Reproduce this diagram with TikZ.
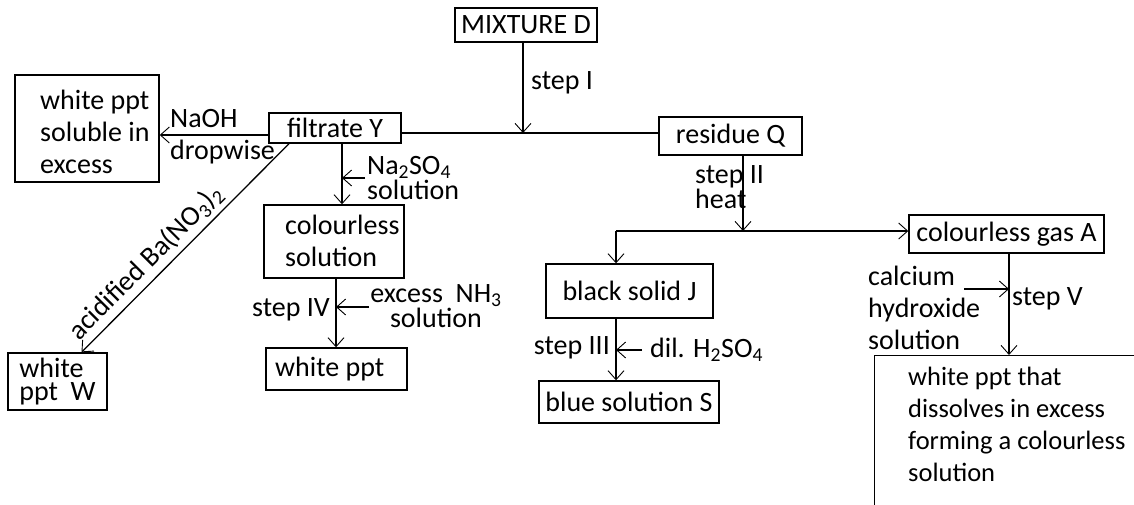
\documentclass[tikz,border=0pt]{standalone}
\usepackage{fontspec}
\setmainfont{Carlito}
\usetikzlibrary{arrows.meta}
\begin{document}
\begin{tikzpicture}[x=1pt,y=-1pt, font=\fontsize{28}{32}\selectfont,
  box/.style={draw, line width=1.4pt, inner sep=0pt, align=left},
  lab/.style={inner sep=0pt, anchor=west, align=left},
  con/.style={line width=1.3pt},
  arr/.style={con, -{Straight Barb[length=9pt,width=16pt,line width=0.9pt]}}]
\useasboundingbox (0,0) rectangle (1134,504);
\clip (0,0) rectangle (1134,504);
% boxes
\node[box, minimum width=142pt, minimum height=34pt] (mix) at (526,25) {MIXTURE D};
\node[box, minimum width=143pt, minimum height=38pt] (resQ) at (730.5,136) {residue Q};
\node[box, minimum width=132pt, minimum height=30pt] (filY) at (335,128) {filtrate Y};
\node[box, minimum width=144pt, minimum height=107pt] (wsol) at (87,128.5) {};
\node[lab] (wsolt) at (40,131.5) {white ppt\\soluble in\\excess};
\node[box, minimum width=140pt, minimum height=73pt] (csol) at (334,241.5) {};
\node[lab] (csolt) at (285,241) {colourless\\solution};
\node[box, minimum width=141pt, minimum height=42pt] (wppt) at (336.5,369) {};
\node[lab] (wpptt) at (275,369) {white ppt};
\node[box, minimum width=99pt, minimum height=57pt, font=\fontsize{28}{23}\selectfont] (wW) at (57.5,381.5) {white\\ppt\ \ W};
\node[box, minimum width=167pt, minimum height=54pt] (bJ) at (629.5,291) {black solid J};
\node[box, minimum width=180pt, minimum height=42pt] (bS) at (629,402) {blue solution S};
\node[box, minimum width=195pt, minimum height=38pt] (gasA) at (1006.5,234) {colourless gas A};
\node[draw, line width=1.4pt, minimum width=300pt, minimum height=200pt, anchor=north west, inner sep=0pt] (big) at (874,355) {};
\node[lab, font=\fontsize{26.5}{32}\selectfont] (bigt) at (908,424.5) {white ppt that\\dissolves in excess\\forming a colourless\\solution};
% junction coordinates
\coordinate (j1) at (523,133);
\coordinate (j2) at (743,231);
\coordinate (j3) at (616,231);
\coordinate (naS) at (365,178);
\coordinate (naE) at (342,178);
\coordinate (nhS) at (369,307);
\coordinate (nhE) at (336,307);
\coordinate (hsS) at (642,350);
\coordinate (hsE) at (616,350);
\coordinate (caS) at (964,289);
\coordinate (caE) at (1009,289);
% connectors
\draw[arr] (mix.south -| j1) -- (j1);
\draw[con] (filY.east |- j1) -- (resQ.west |- j1);
\draw[arr] ([yshift=-7pt]filY.west) -- ([yshift=-7pt]filY.west -| wsol.east);
\draw[arr] (filY.south -| naE) -- (csol.north -| naE);
\draw[arr] (naS) -- (naE);
\draw[arr] (csol.south -| nhE) -- (wppt.north -| nhE);
\draw[arr] (nhS) -- (nhE);
\draw[arr] ([xshift=-46pt]filY.south) -- ([xshift=24pt]wW.north);
\path ([xshift=24pt]wW.north) -- node[pos=0.37, sloped, above, inner sep=5pt] (acid) {acidified Ba(NO\textsubscript{3})\textsubscript{2}} ([xshift=-46pt]filY.south);
\draw[arr] (resQ.south -| j2) -- (j2);
\draw[con] (j3) -- (j2);
\draw[arr] (j2) -- (j2 -| gasA.west);
\draw[arr] (j3) -- (j3 |- bJ.north);
\draw[arr] (bJ.south -| j3) -- (bS.north -| j3);
\draw[arr] (hsS) -- (hsE);
\draw[arr] (gasA.south -| caE) -- (big.north -| caE);
\draw[arr] (caS) -- (caE);
% labels
\node[lab] (s1) at (531,83) {step I};
\node[lab] (naoh) at (170,119) {NaOH};
\node[lab] (drop) at (170,152) {dropwise};
\node[lab, font=\fontsize{28}{21}\selectfont] (na) at (367,178) {Na\textsubscript{2}SO\textsubscript{4}\\solution};
\node[lab, anchor=east] (s4) at (330,310) {step IV};
\node[inner sep=0pt, align=center, font=\fontsize{28}{23}\selectfont] (nh3) at (436,306) {excess\ \ NH\textsubscript{3}\\solution};
\node[lab, font=\fontsize{28}{25}\selectfont] (s2) at (695,187.5) {step II\\heat};
\node[lab, anchor=east] (s3) at (610,348) {step III};
\node[lab] (h2) at (650,350) {dil. H\textsubscript{2}SO\textsubscript{4}};
\node[lab] (ca) at (868,308) {calcium\\hydroxide\\solution};
\node[lab] (s5) at (1012,299) {step V};
\end{tikzpicture}
\end{document}
